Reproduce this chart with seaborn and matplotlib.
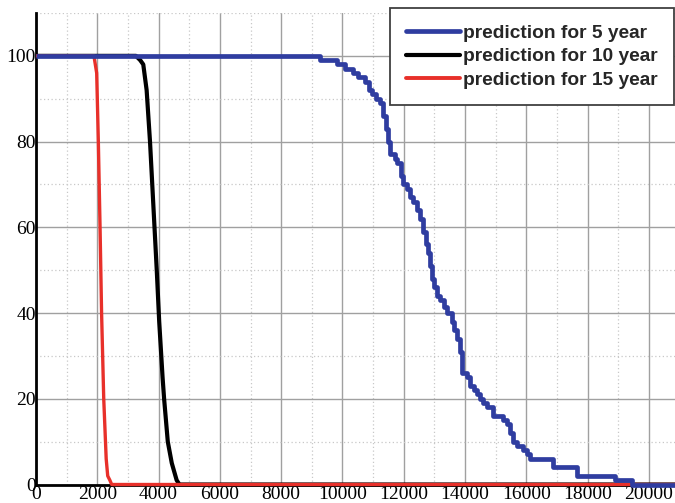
import numpy as np
import pandas as pd
import matplotlib
matplotlib.use("Agg")
import matplotlib.pyplot as plt
import seaborn as sns
from matplotlib.ticker import MultipleLocator
from matplotlib.lines import Line2D

# ---- data ----
times5 = [0, 9270, 9810, 10080, 10350, 10500, 10740, 10850, 10950, 11100, 11220,
          11330, 11420, 11480, 11550, 11700, 11780, 11900, 11980, 12100, 12200,
          12300, 12430, 12530, 12630, 12720, 12800, 12860, 12920, 13000, 13100,
          13180, 13300, 13410, 13570, 13650, 13740, 13830, 13900, 14060, 14160,
          14300, 14390, 14490, 14600, 14710, 14910, 15240, 15370, 15480, 15560,
          15700, 15890, 16020, 16120, 16870, 17650, 18890, 19450, 20850]
pct5 = [100, 99, 98, 97, 96, 95, 94, 92, 91, 90, 89,
        86, 83, 80, 77, 76, 75, 72, 70, 69, 67,
        66, 64, 62, 59, 56, 54, 51, 48, 46, 44,
        43, 41.5, 40, 38, 36, 34, 31, 26, 25, 23,
        22, 21, 20, 19, 18, 16, 15, 14, 12, 10,
        9, 8, 7, 6, 4, 2, 1, 0, 0]

times10 = [0, 3260, 3400, 3500, 3610, 3720, 3830, 3940, 4020, 4130, 4180, 4300,
           4430, 4590, 4680, 20850]
pct10 = [100, 100, 99, 98, 92, 80, 65, 50, 38, 25, 20, 10, 5, 1, 0, 0]

times15 = [0, 1890, 1980, 2034, 2090, 2140, 2210, 2290, 2340, 2410, 2470, 20850]
pct15 = [100, 100, 96, 80, 60, 40, 20, 6, 2, 1, 0, 0]

labels = ["prediction for 5 year", "prediction for 10 year", "prediction for 15 year"]
x_ticks = [0, 2000, 4000, 6000, 8000, 10000, 12000, 14000, 16000, 18000, 20000]
y_ticks = [0, 20, 40, 60, 80, 100]

# ---- styling ----
sns.set_theme(style="white", context="notebook")
plt.rcParams["font.family"] = ["Liberation Serif", "DejaVu Serif"]

BLUE = "#2f3da0"
BLACK = "#000000"
RED = "#e8302a"

fig = plt.figure(figsize=(6.75, 5.03), dpi=100)
ax = fig.add_axes([36 / 675, 18.5 / 503, 1 - 36 / 675, (484.5 - 13) / 503])

df5 = pd.DataFrame({"t": times5, "p": pct5})
df10 = pd.DataFrame({"t": times10, "p": pct10})
df15 = pd.DataFrame({"t": times15, "p": pct15})

sns.lineplot(data=df10, x="t", y="p", ax=ax, color=BLACK, lw=3.0,
             estimator=None, sort=False, zorder=3)
sns.lineplot(data=df15, x="t", y="p", ax=ax, color=RED, lw=2.4,
             estimator=None, sort=False, zorder=4)
sns.lineplot(data=df5, x="t", y="p", ax=ax, color=BLUE, lw=3.4,
             estimator=None, sort=False, drawstyle="steps-post", zorder=5)
for ln in ax.lines:
    ln.set_clip_on(False)
    ln.set_solid_capstyle("butt")

ax.set_xlim(0, 20850)
ax.set_ylim(0, 110)
ax.set_xticks(x_ticks)
ax.set_yticks(y_ticks)
ax.xaxis.set_minor_locator(MultipleLocator(1000))
ax.yaxis.set_minor_locator(MultipleLocator(10))
ax.grid(which="major", color="#a0a0a0", lw=1.0, ls="-")
ax.grid(which="minor", color="#c8c8c8", lw=0.9, ls=(0, (1, 2)))
ax.set_axisbelow(True)
ax.set_xlabel("")
ax.set_ylabel("")
ax.tick_params(axis="both", which="both", length=0, labelsize=14, colors="black")
ax.tick_params(axis="x", pad=1)
ax.tick_params(axis="y", pad=0)

for s in ["top", "right"]:
    ax.spines[s].set_visible(False)
for s in ["left", "bottom"]:
    ax.spines[s].set_color("black")
    ax.spines[s].set_linewidth(2.0)

handles = [Line2D([], [], color=BLUE, lw=3.4),
           Line2D([], [], color=BLACK, lw=3.0),
           Line2D([], [], color=RED, lw=2.8)]
leg = fig.legend(handles, labels, loc="upper left",
                 bbox_to_anchor=(390 / 675, 1 - 8 / 503),
                 prop={"family": "Liberation Sans", "weight": "bold", "size": 13.8},
                 frameon=True, fancybox=False, handlelength=2.8, handletextpad=0.15,
                 labelspacing=0.33, borderpad=0.85, borderaxespad=0)
leg.get_frame().set_edgecolor("#404040")
leg.get_frame().set_linewidth(1.3)
leg.get_frame().set_facecolor("white")
leg.get_frame().set_alpha(1)

fig.savefig("out.png", dpi=100)
